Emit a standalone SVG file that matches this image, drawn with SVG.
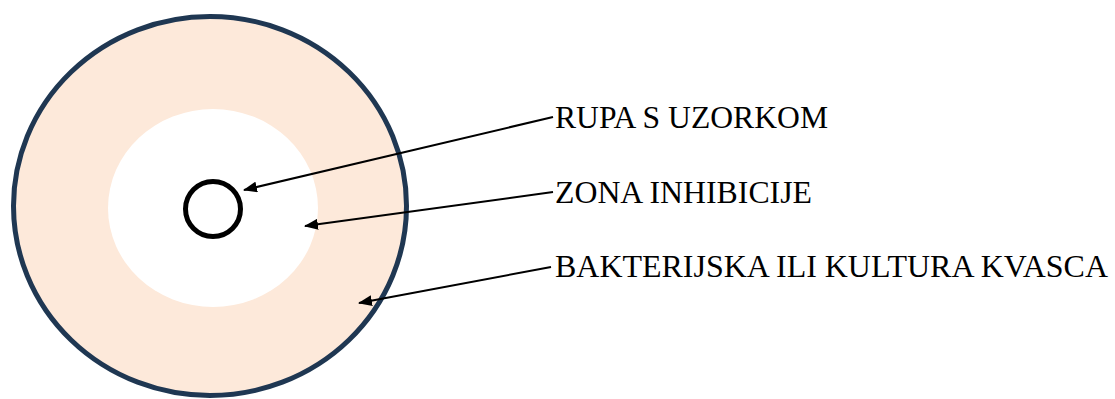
<svg xmlns="http://www.w3.org/2000/svg" width="1115" height="399" viewBox="0 0 1115 399">
<style>
.lbl{font-family:"Liberation Serif","Times New Roman",serif;font-size:31.5px;fill:#000}
.conn{stroke:#000;stroke-width:2;fill:none;marker-end:url(#ah)}
</style>
<defs>
<marker id="ah" markerWidth="14" markerHeight="11" refX="13" refY="5.5" orient="auto" markerUnits="userSpaceOnUse">
<path d="M0,0 L14,5.5 L0,11 Z" fill="#000"/>
</marker>
</defs>
<rect width="1115" height="399" fill="#fff"/>
<g id="culture">
<ellipse cx="210" cy="206" rx="196.5" ry="189.5" fill="#fde9da" stroke="#1f3752" stroke-width="5"/>
</g>
<g id="inhibition-zone">
<ellipse cx="213" cy="208" rx="105" ry="99" fill="#fff"/>
</g>
<g id="well">
<circle cx="213" cy="209" r="27.5" fill="#fff" stroke="#000" stroke-width="5"/>
</g>
<g id="connectors">
<line class="conn" x1="553" y1="117" x2="244" y2="190"/>
<line class="conn" x1="553" y1="192" x2="305" y2="226"/>
<line class="conn" x1="551" y1="267" x2="359" y2="303"/>
</g>
<g id="labels">
<text class="lbl" x="555" y="128" textLength="273" lengthAdjust="spacingAndGlyphs">RUPA S UZORKOM</text>
<text class="lbl" x="555" y="203" textLength="257" lengthAdjust="spacingAndGlyphs">ZONA INHIBICIJE</text>
<text class="lbl" x="555" y="277" textLength="553" lengthAdjust="spacingAndGlyphs">BAKTERIJSKA ILI KULTURA KVASCA</text>
</g>
</svg>
